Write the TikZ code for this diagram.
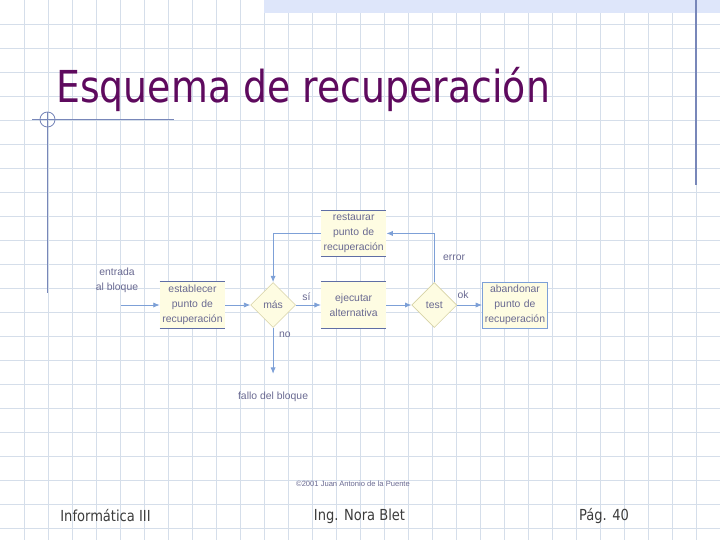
\documentclass[tikz,border=0pt]{standalone}
\usepackage{fontspec}
\setmainfont{Liberation Sans}
\newfontfamily\tahoma[FakeStretch=0.86]{DejaVu Sans}
\usetikzlibrary{arrows.meta,positioning,shapes.geometric}
\definecolor{rejilla}{RGB}{213,222,234}
\definecolor{banda}{RGB}{222,230,250}
\definecolor{morado}{RGB}{94,10,94}
\definecolor{linea}{RGB}{125,160,215}
\definecolor{borde}{RGB}{95,110,165}
\definecolor{amarillo}{RGB}{254,252,226}
\definecolor{bordeRombo}{RGB}{215,210,165}
\definecolor{texto}{RGB}{105,105,145}
\definecolor{marco}{RGB}{120,135,185}
\definecolor{pie}{RGB}{60,60,60}
\tikzset{caja/.style={fill=amarillo,text width=1.625cm,minimum height=1.15cm,align=center,inner sep=0pt,font=\fontsize{7.4}{10.6}\selectfont,text=texto},rombo/.style={diamond,aspect=1,draw=bordeRombo,fill=amarillo,minimum width=1.125cm,minimum height=1.125cm,inner sep=0pt,font=\fontsize{7.4}{10.6}\selectfont,text=texto},etiq/.style={font=\fontsize{7.4}{10.6}\selectfont,text=texto,inner sep=1pt,align=center},flow/.style={-{Latex[length=1.6mm,width=1.3mm]},draw=linea,line width=0.6pt},tapa/.style={draw=borde,line width=0.6pt},piepag/.style={font=\tahoma\fontsize{10.8}{12}\selectfont,text=pie,inner sep=0pt}}

\begin{document}
\begin{tikzpicture}[x=0.025cm,y=-0.025cm,node distance=0.625cm]
\useasboundingbox (0,0) rectangle (720,540);
% fondo cuadriculado
\foreach \x in {24,48,...,696} \draw[rejilla,line width=0.6pt] (\x,0) -- (\x,540);
\foreach \y in {24,48,...,528} \draw[rejilla,line width=0.6pt] (0,\y) -- (720,\y);
\fill[banda] (264,0) rectangle (720,12.5);
\draw[marco,line width=0.8pt] (696,0) -- (696,185);
\draw[marco,line width=0.6pt] (32,119.5) -- (174,119.5);
\draw[marco,line width=0.6pt] (47.5,112) -- (47.5,293);
\draw[marco,line width=0.6pt] (47.5,119.5) circle (7.5);
\node[anchor=base west,inner sep=0pt,text=morado,font=\tahoma\fontsize{31.3}{36}\selectfont] (titulo) at (56,102) {Esquema de recuperación};
% diagrama
\node[caja] (establecer) at (192.5,305) {establecer\\punto de\\recuperación};
\node[rombo,right=of establecer] (mas) {más};
\node[caja,right=of mas] (ejecutar) {ejecutar\\alternativa};
\node[caja,above=of ejecutar] (restaurar) {restaurar\\punto de\\recuperación};
\node[rombo,right=of ejecutar] (test) {test};
\node[caja,draw=linea,line width=0.6pt,right=of test] (abandonar) {abandonar\\punto de\\recuperación};
\foreach \n in {establecer,ejecutar,restaurar}
  \draw[tapa] (\n.north west) -- (\n.north east) (\n.south west) -- (\n.south east);
\node[etiq] (entrada) at (117,280) {entrada\\al bloque};
\coordinate (inicio) at (121,305);
\coordinate[below=1.15cm of mas.south] (salida);
\node[etiq,below=0.42cm of salida] (fallo) {fallo del bloque};
\draw[flow] (inicio) -- (establecer);
\draw[flow] (establecer) -- (mas);
\draw[flow] (mas) -- node[etiq,above,pos=0.42,yshift=1.5pt] {sí} (ejecutar);
\draw[flow] (mas) -- node[etiq,right,pos=0.15,xshift=3pt] {no} (salida);
\draw[flow] (ejecutar) -- (test);
\draw[flow] (test) -- node[etiq,above,pos=0.24,yshift=3pt] {ok} (abandonar);
\draw[flow] (test.north) |- node[etiq,right,pos=0.25,xshift=5pt] {error} (restaurar.east);
\draw[flow] (restaurar.west) -| (mas.north);
\node[etiq,font=\fontsize{5.4}{6}\selectfont] (autor) at (353,484) {©2001 Juan Antonio de la Puente};
% pie de pagina
\node[piepag] (materia) at (105.5,516) {Informática III};
\node[piepag] (profesora) at (359.5,516) {Ing. Nora Blet};
\node[piepag] (pagina) at (604,516) {Pág. 40};
\end{tikzpicture}
\end{document}
